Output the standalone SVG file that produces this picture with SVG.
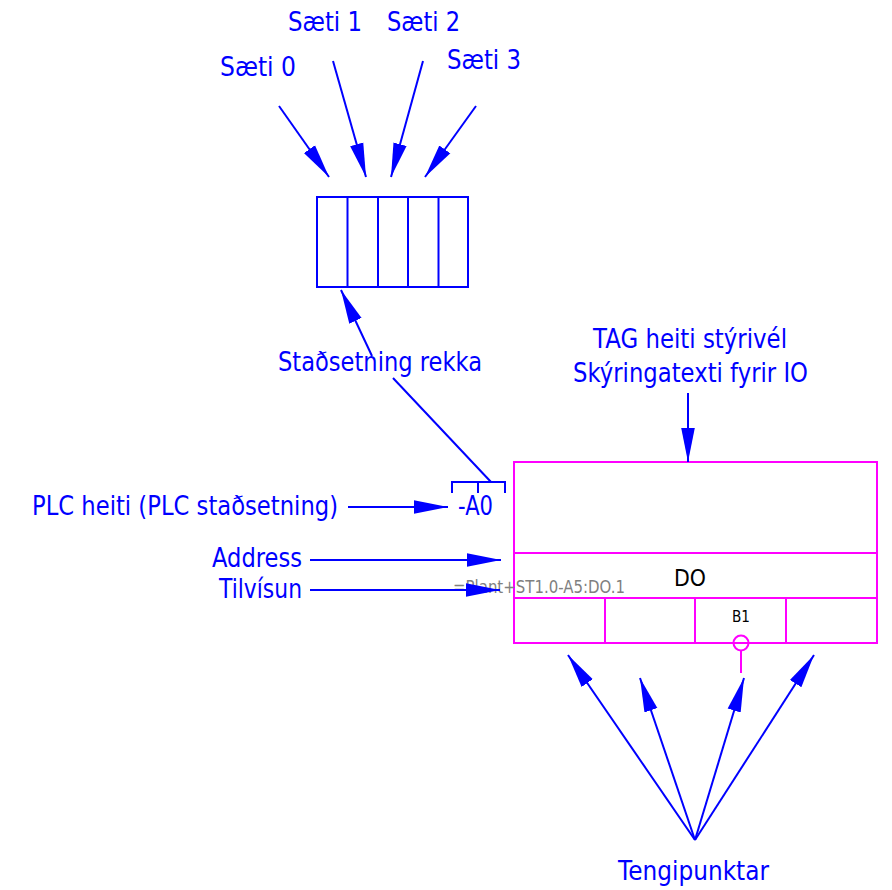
<svg xmlns="http://www.w3.org/2000/svg" width="892" height="890" viewBox="0 0 892 890">
<style>
.lbl{font-family:"DejaVu Sans",sans-serif;font-size:26px;fill:#0000ff}
.blk{font-family:"DejaVu Sans",sans-serif;fill:#000}
.gray{font-family:"DejaVu Sans",sans-serif;font-size:17px;fill:#808080}
.bl{stroke:#0000ff;stroke-width:2;fill:none}
.mg{stroke:#ff00ff;stroke-width:2;fill:none}
.arr{stroke:#0000ff;stroke-width:2;fill:none;marker-end:url(#ah)}
</style>
<defs>
<marker id="ah" markerUnits="userSpaceOnUse" markerWidth="36" markerHeight="16" refX="34" refY="8" orient="auto">
<path d="M0,1.2 L34,8 L0,14.8 z" fill="#0000ff"/>
</marker>
</defs>
<rect width="892" height="890" fill="#fff"/>

<g id="rack">
<rect x="317" y="197" width="151" height="90" class="bl"/>
<line x1="347.5" y1="197" x2="347.5" y2="287" class="bl"/>
<line x1="378" y1="197" x2="378" y2="287" class="bl"/>
<line x1="408" y1="197" x2="408" y2="287" class="bl"/>
<line x1="438.5" y1="197" x2="438.5" y2="287" class="bl"/>
</g>

<g id="labels-saeti">
<text class="lbl" x="220" y="76" textLength="76" lengthAdjust="spacingAndGlyphs">Sæti 0</text>
<text class="lbl" x="288" y="31" textLength="74" lengthAdjust="spacingAndGlyphs">Sæti 1</text>
<text class="lbl" x="387" y="31" textLength="73" lengthAdjust="spacingAndGlyphs">Sæti 2</text>
<text class="lbl" x="447" y="69" textLength="74" lengthAdjust="spacingAndGlyphs">Sæti 3</text>
</g>

<g id="label-stadsetning">
<text class="lbl" x="278" y="371" textLength="204" lengthAdjust="spacingAndGlyphs">Staðsetning rekka</text>
</g>

<g id="label-tag">
<text class="lbl" x="593" y="348" textLength="194" lengthAdjust="spacingAndGlyphs">TAG heiti stýrivél</text>
<text class="lbl" x="573" y="382" textLength="235" lengthAdjust="spacingAndGlyphs">Skýringatexti fyrir IO</text>
</g>

<g id="label-plc">
<text class="lbl" x="32" y="515" textLength="306" lengthAdjust="spacingAndGlyphs">PLC heiti (PLC staðsetning)</text>
</g>
<g id="label-address">
<text class="lbl" x="212" y="567" textLength="90" lengthAdjust="spacingAndGlyphs">Address</text>
</g>
<g id="label-tilvisun">
<text class="lbl" x="219" y="598" textLength="83" lengthAdjust="spacingAndGlyphs">Tilvísun</text>
</g>
<g id="label-tengipunktar">
<text class="lbl" x="618" y="880" textLength="151" lengthAdjust="spacingAndGlyphs">Tengipunktar</text>
</g>

<g id="plc-tag">
<path d="M452,493 V482 H505 V493 M478,482 V493" class="bl"/>
<text class="lbl" x="458" y="515" textLength="35" lengthAdjust="spacingAndGlyphs">-A0</text>
</g>

<g id="io-module">
<rect x="514" y="462" width="363" height="181" class="mg"/>
<line x1="514" y1="553" x2="877" y2="553" class="mg"/>
<line x1="514" y1="598" x2="877" y2="598" class="mg"/>
<line x1="605" y1="598" x2="605" y2="643" class="mg"/>
<line x1="695" y1="598" x2="695" y2="643" class="mg"/>
<line x1="786" y1="598" x2="786" y2="643" class="mg"/>
<text class="blk" x="674" y="586" font-size="23" textLength="32" lengthAdjust="spacingAndGlyphs">DO</text>
<text class="blk" x="732" y="622" font-size="16" textLength="18" lengthAdjust="spacingAndGlyphs">B1</text>
<circle cx="741" cy="643" r="7.5" fill="#fff" class="mg"/>
<line x1="741" y1="650.5" x2="741" y2="673" class="mg"/>
</g>

<g id="ref-text">
<text class="gray" x="453" y="593" textLength="172" lengthAdjust="spacingAndGlyphs">=Plant+ST1.0-A5:DO.1</text>
</g>

<g id="connectors">
<line x1="279" y1="106" x2="329" y2="177" class="arr"/>
<line x1="333" y1="61" x2="366" y2="177" class="arr"/>
<line x1="423" y1="61" x2="391" y2="177" class="arr"/>
<line x1="476" y1="106" x2="425" y2="177" class="arr"/>
<line x1="372" y1="356" x2="341" y2="290" class="arr"/>
<line x1="393" y1="378" x2="491" y2="482" class="bl"/>
<line x1="348" y1="507" x2="448" y2="507" class="arr"/>
<line x1="310" y1="560" x2="501" y2="560" class="arr"/>
<line x1="310" y1="590" x2="500" y2="590" class="arr"/>
<line x1="688" y1="393" x2="688" y2="462" class="arr"/>
<line x1="695" y1="840" x2="568" y2="655" class="arr"/>
<line x1="695" y1="840" x2="640" y2="678" class="arr"/>
<line x1="695" y1="840" x2="744" y2="678" class="arr"/>
<line x1="695" y1="840" x2="814" y2="655" class="arr"/>
</g>
</svg>
